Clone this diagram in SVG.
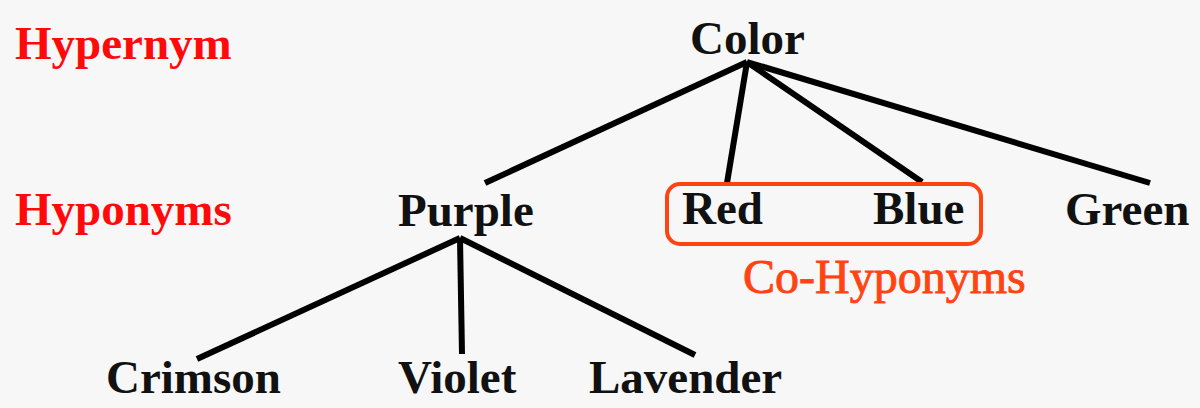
<svg xmlns="http://www.w3.org/2000/svg" width="1200" height="408" viewBox="0 0 1200 408">
  <style>
    .t { font-family: "Liberation Serif", "Times New Roman", serif; font-size: 47px; font-weight: bold; fill: #111; }
    .lab { font-family: "Liberation Serif", "Times New Roman", serif; font-size: 47px; font-weight: bold; fill: #ff0a0a; }
    .co { font-family: "Liberation Serif", "Times New Roman", serif; font-size: 48px; font-weight: normal; fill: #ff4412; stroke: #ff4412; stroke-width: 0.9; }
    .edge { stroke: #000; stroke-width: 6; stroke-linecap: butt; fill: none; }
  </style>
  <rect width="1200" height="408" fill="#f7f7f7"/>
  <g id="connectors">
    <line class="edge" x1="747" y1="62" x2="485" y2="183"/>
    <line class="edge" x1="747" y1="62" x2="727" y2="183"/>
    <line class="edge" x1="747" y1="62" x2="922" y2="182"/>
    <line class="edge" x1="747" y1="62" x2="1150" y2="183"/>
    <line class="edge" x1="460" y1="238" x2="197" y2="359"/>
    <line class="edge" x1="460" y1="238" x2="462" y2="354"/>
    <line class="edge" x1="460" y1="238" x2="695" y2="355"/>
  </g>
  <g id="label-hypernym"><text class="lab" x="15" y="59">Hypernym</text></g>
  <g id="label-hyponyms"><text class="lab" x="15" y="225">Hyponyms</text></g>
  <g id="node-color"><text class="t" x="690" y="54">Color</text></g>
  <g id="node-purple"><text class="t" x="398" y="226">Purple</text></g>
  <g id="co-hyponyms">
    <rect x="667" y="184" width="314" height="60" rx="13" ry="13" fill="none" stroke="#ff4412" stroke-width="4"/>
    <text class="co" x="743" y="293">Co-Hyponyms</text>
  </g>
  <g id="node-red"><text class="t" x="682" y="224">Red</text></g>
  <g id="node-blue"><text class="t" x="873" y="224">Blue</text></g>
  <g id="node-green"><text class="t" x="1065" y="225">Green</text></g>
  <g id="node-crimson"><text class="t" x="106" y="393">Crimson</text></g>
  <g id="node-violet"><text class="t" x="398" y="393">Violet</text></g>
  <g id="node-lavender"><text class="t" x="589" y="393">Lavender</text></g>
</svg>
